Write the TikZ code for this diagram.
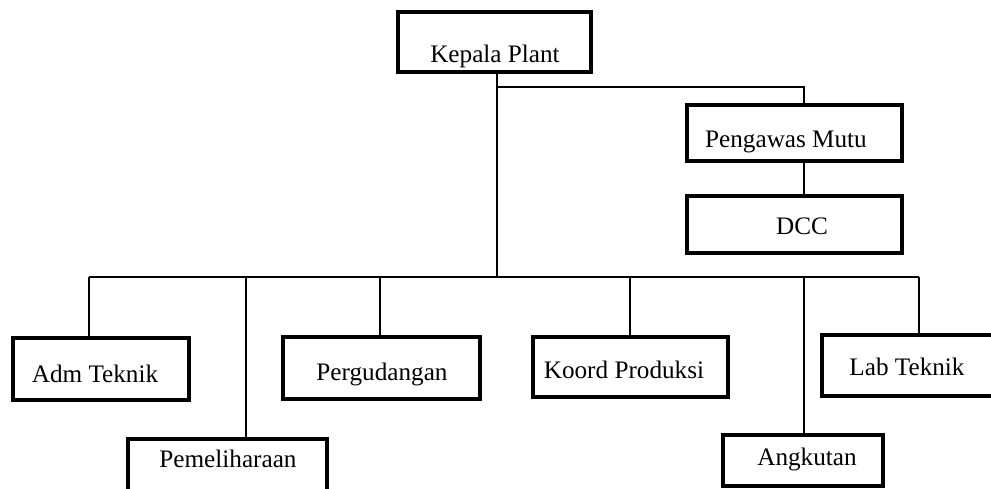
\documentclass[tikz,border=0pt]{standalone}
\usepackage{fontspec}
\setmainfont{Liberation Serif}
\begin{document}
\begin{tikzpicture}[x=1pt,y=-1pt,
  box/.style={draw, line width=3.5pt, rectangle, inner sep=0pt},
  lbl/.style={anchor=base, inner sep=0pt, font=\fontsize{25.2}{30}\selectfont},
  conn/.style={line width=2pt}]
\useasboundingbox (0,0) rectangle (991,489);
\clip (0,0) rectangle (991,489);
% boxes
\node[box, minimum width=193pt, minimum height=60pt] (kp) at (494.5,42) {};
\node[box, minimum width=215pt, minimum height=56pt] (pm) at (794.5,133) {};
\node[box, minimum width=215pt, minimum height=57pt] (dcc) at (794.5,224.5) {};
\node[box, minimum width=176pt, minimum height=62pt] (adm) at (101,369) {};
\node[box, minimum width=199pt, minimum height=61pt] (pem) at (227.5,469.5) {};
\node[box, minimum width=197pt, minimum height=62pt] (perg) at (381.5,368) {};
\node[box, minimum width=195pt, minimum height=60pt] (koord) at (630.5,367) {};
\node[box, minimum width=160pt, minimum height=51pt] (ang) at (803,460.5) {};
\node[box, minimum width=178pt, minimum height=61pt] (lab) at (911,365.5) {};
% labels
\node[lbl] (kpt) at (495,63) {Kepala Plant};
\node[lbl] (pmt) at (786,148) {Pengawas Mutu};
\node[lbl] (dcct) at (802,235) {DCC};
\node[lbl] (admt) at (95,382) {Adm Teknik};
\node[lbl] (pemt) at (228,467) {Pemeliharaan};
\node[lbl] (pergt) at (382,380) {Pergudangan};
\node[lbl] (koordt) at (624,378) {Koord Produksi};
\node[lbl] (angt) at (807,465) {Angkutan};
\node[lbl] (labt) at (907,375) {Lab Teknik};
% junction coordinates
\coordinate (j1) at (497,87);
\coordinate (pmx) at (804,87);
\coordinate (busL) at (89,277);
\coordinate (busM) at (497,277);
\coordinate (busR) at (919,277);
\coordinate (bPem) at (246,277);
\coordinate (bPerg) at (380,277);
\coordinate (bKoord) at (630,277);
\coordinate (bAng) at (804,277);
% connectors
\draw[conn] (kp.south -| j1) -- (busM);
\draw[conn] (j1) -- (pmx) -- (pm.north -| pmx);
\draw[conn] (pm.south -| pmx) -- (dcc.north -| pmx);
\draw[conn] (busL) -- (busR);
\draw[conn] (busL) -- (adm.north -| busL);
\draw[conn] (bPem) -- (pem.north -| bPem);
\draw[conn] (bPerg) -- (perg.north -| bPerg);
\draw[conn] (bKoord) -- (koord.north -| bKoord);
\draw[conn] (bAng) -- (ang.north -| bAng);
\draw[conn] (busR) -- (lab.north -| busR);
\end{tikzpicture}
\end{document}
